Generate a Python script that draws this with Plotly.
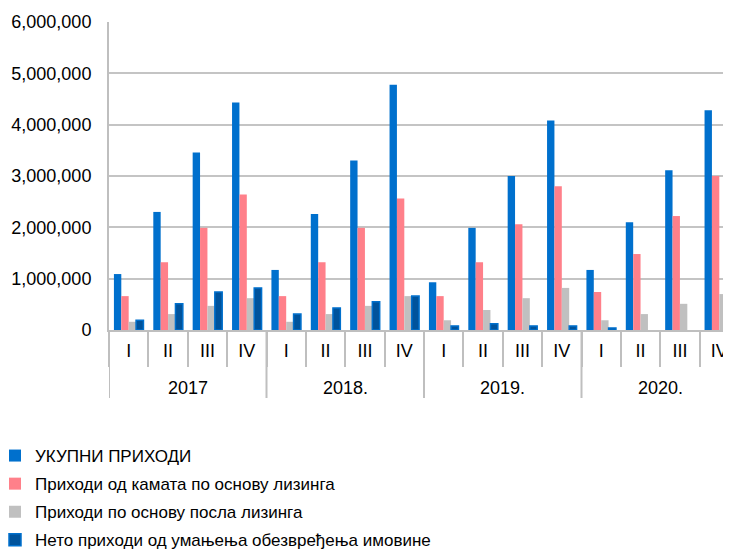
import plotly.graph_objects as go

years = ["2017", "2018.", "2019.", "2020."]
quarters = ["I", "II", "III", "IV"]

total_income = [1090000, 2300000, 3460000, 4430000,
                1170000, 2260000, 3300000, 4780000,
                930000, 1990000, 3000000, 4080000,
                1170000, 2100000, 3110000, 4280000]
interest_income = [660000, 1320000, 1990000, 2640000,
                   660000, 1320000, 1990000, 2560000,
                   660000, 1320000, 2060000, 2800000,
                   740000, 1480000, 2220000, 3000000]
leasing_income = [160000, 310000, 470000, 620000,
                  160000, 310000, 470000, 660000,
                  190000, 390000, 620000, 820000,
                  190000, 310000, 510000, 700000]
impairment_income = [190000, 510000, 740000, 820000,
                     310000, 430000, 550000, 660000,
                     80000, 120000, 80000, 80000,
                     40000, None, None, None]

series_names = ["УКУПНИ ПРИХОДИ",
                "Приходи од камата по основу лизинга",
                "Приходи по основу посла лизинга",
                "Нето приходи од умањења обезвређења имовине"]

categories = [f"{y} {q}" for y in years for q in quarters]
tick_text = [q for _ in years for q in quarters]

colors = ["#0070CD", "#FF808A", "#C0C0C0", "#00539C"]
line_colors = ["#0070CD", "#FF808A", "#C0C0C0", "#0070CD"]
line_widths = [0, 0, 0, 1.5]
data = [total_income, interest_income, leasing_income, impairment_income]

fig = go.Figure()
for i, (name, vals) in enumerate(zip(series_names, data)):
    fig.add_trace(go.Bar(
        x=categories, y=vals, name=name,
        marker=dict(color=colors[i], line=dict(color=line_colors[i], width=line_widths[i])),
        legendgroup=f"g{i}",
    ))

font_family = "Liberation Sans, Arial, sans-serif"
# page body adds an 8px offset; figure coordinates below account for it
plot_w = 731 - 101
plot_h = 549 - 14 - 227
n_q = len(quarters)

# year group labels and dividers below the quarter row
for k, yr in enumerate(years):
    fig.add_annotation(
        x=k * n_q + (n_q - 1) / 2, xref="x",
        y=-58 / plot_h, yref="paper", yanchor="middle",
        text=yr, showarrow=False,
        font=dict(family=font_family, size=18, color="#000000"),
    )
    fig.add_shape(
        type="line", xref="x", yref="paper",
        x0=k * n_q - 0.5, x1=k * n_q - 0.5, y0=0, y1=-68 / plot_h,
        line=dict(color="#BFBFBF", width=2),
    )

fig.update_layout(
    width=731, height=549,
    margin=dict(l=101, r=0, t=14, b=227, autoexpand=False),
    paper_bgcolor="white", plot_bgcolor="white",
    barmode="group", bargap=0.25, bargroupgap=0,
    font=dict(family=font_family, size=17, color="#000000"),
    showlegend=True,
    legend=dict(
        xref="paper", yref="paper",
        x=-(101 + 13) / plot_w, y=-(430 - 322) / plot_h, xanchor="left", yanchor="top",
        orientation="v", traceorder="grouped", tracegroupgap=3,
        font=dict(family=font_family, size=17, color="#000000"),
        itemwidth=30, bgcolor="rgba(0,0,0,0)",
    ),
    xaxis=dict(
        type="category",
        range=[-0.5, 15.5],
        tickvals=categories, ticktext=tick_text,
        showline=True, linecolor="#BFBFBF", linewidth=2,
        ticks="outside", tickson="boundaries", ticklen=35,
        tickcolor="#BFBFBF", tickwidth=2,
        showgrid=False, tickangle=0, ticklabelstandoff=3,
        tickfont=dict(family=font_family, size=18, color="#000000"),
    ),
    yaxis=dict(
        range=[0, 6000000],
        tickvals=[0, 1000000, 2000000, 3000000, 4000000, 5000000, 6000000],
        tickformat=",.0f",
        showgrid=True, gridcolor="#C4C4C4", gridwidth=1.5,
        showline=True, linecolor="#BFBFBF", linewidth=2,
        zeroline=False,
        ticks="", ticklabelstandoff=12,
        tickfont=dict(family=font_family, size=18, color="#000000"),
    ),
)

fig.write_html("out.html")
